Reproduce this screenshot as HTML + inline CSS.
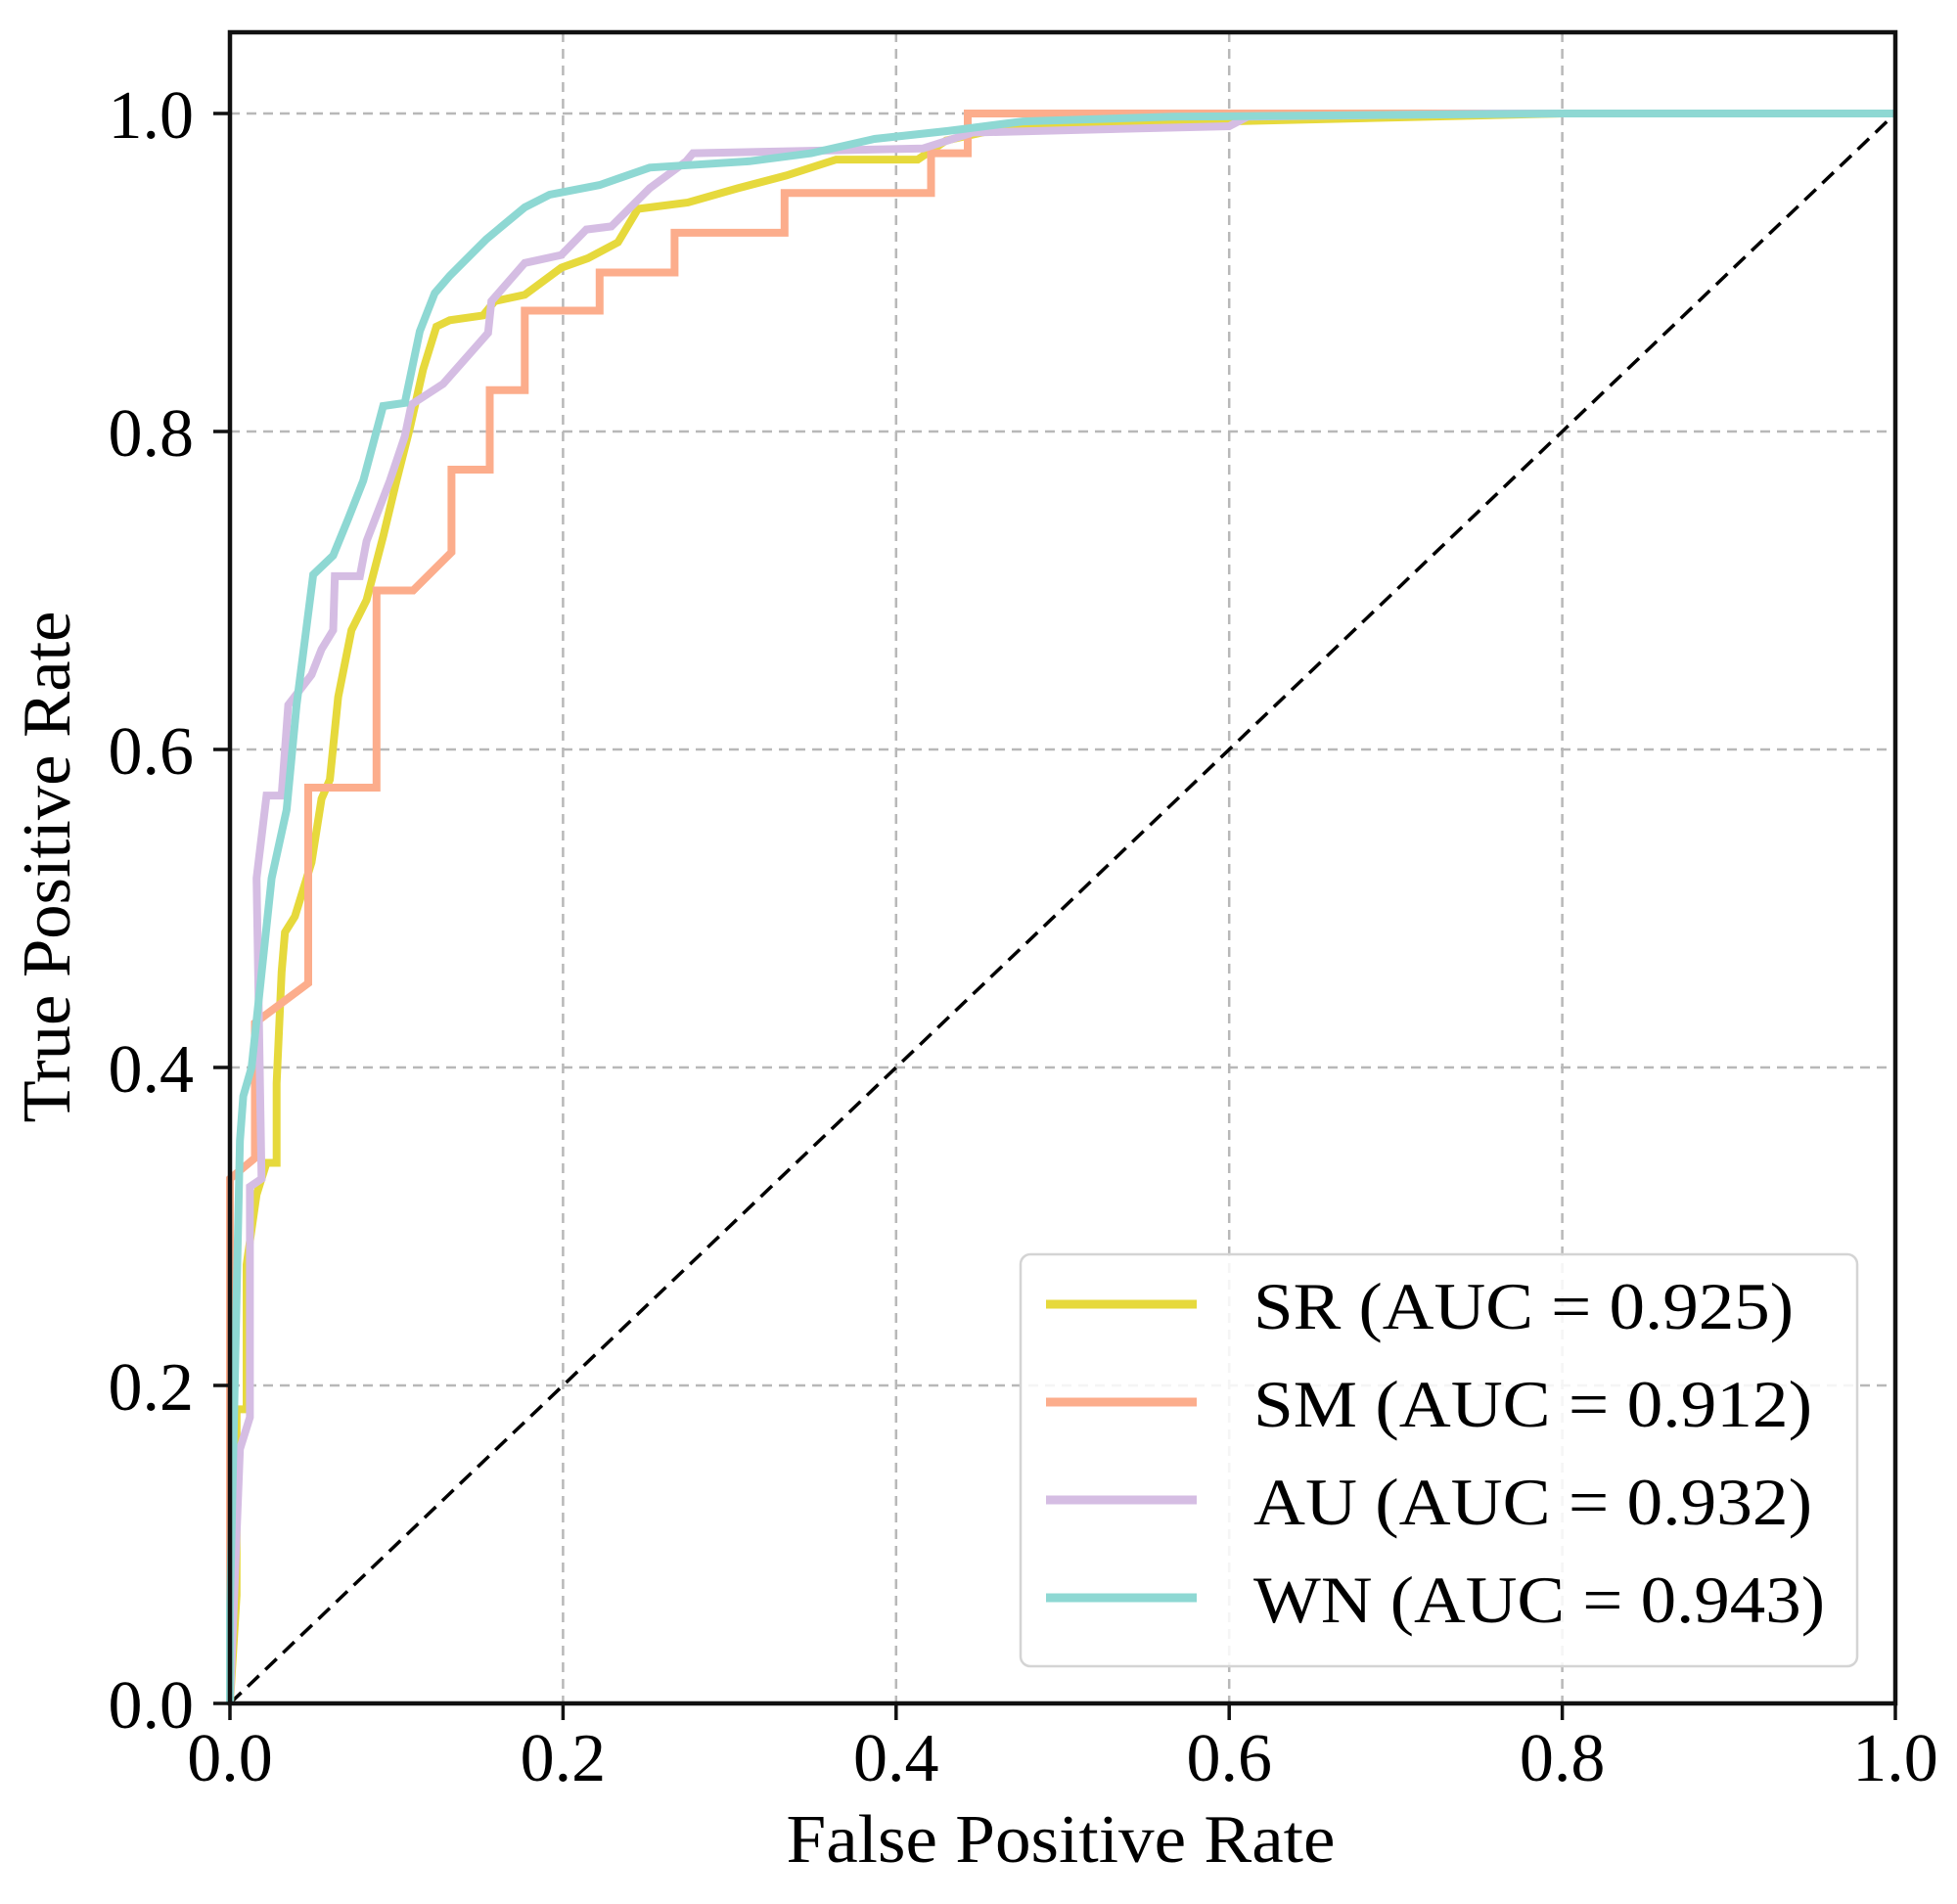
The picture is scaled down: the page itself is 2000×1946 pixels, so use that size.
<!DOCTYPE html>
<html><head><meta charset="utf-8"><style>
html,body{margin:0;padding:0;background:#fff;}
svg{display:block;font-family:"Liberation Serif","DejaVu Serif",serif;}
</style></head><body>
<svg id="chart" width="2000" height="1946" viewBox="0 0 2000 1946">
<g id="grid"></g>
<g id="curves"></g>
<g id="axes"></g>
<text x="1084" y="1903" font-size="70" text-anchor="middle" textLength="561" lengthAdjust="spacingAndGlyphs">False Positive Rate</text>
<text transform="translate(71,886) rotate(-90)" font-size="70" text-anchor="middle" textLength="523" lengthAdjust="spacingAndGlyphs">True Positive Rate</text>
<g id="legend"></g>
</svg>
<script>
const xTicks = [0, 0.2, 0.4, 0.6, 0.8, 1.0];
const yTicks = [0, 0.2, 0.4, 0.6, 0.8, 1.0];
const tickLabels = ["0.0", "0.2", "0.4", "0.6", "0.8", "1.0"];
const seriesNames = ["SR", "SM", "AU", "WN"];
const aucValues = ["0.925", "0.912", "0.932", "0.943"];
const seriesColors = ["#e6d93c", "#fcad8c", "#d5bde3", "#8ed8d3"];
const srFpr = [0,0.004,0.004,0.01,0.01,0.016,0.022,0.028,0.028,0.031,0.033,0.039,0.049,0.055,0.06,0.065,0.073,0.082,0.092,0.1,0.108,0.116,0.124,0.132,0.152,0.159,0.177,0.199,0.215,0.233,0.245,0.275,0.305,0.334,0.364,0.413,0.43,0.46,0.6,0.8,1.0];
const srTpr = [0,0.068,0.185,0.185,0.276,0.32,0.34,0.34,0.39,0.46,0.485,0.495,0.529,0.569,0.581,0.633,0.675,0.694,0.734,0.769,0.802,0.839,0.866,0.87,0.873,0.882,0.886,0.903,0.909,0.919,0.94,0.944,0.953,0.961,0.971,0.971,0.983,0.99,0.995,1.0,1.0];
const smFpr = [0,0,0.015,0.015,0.047,0.047,0.088,0.088,0.11,0.133,0.133,0.156,0.156,0.177,0.177,0.222,0.222,0.267,0.267,0.333,0.333,0.421,0.421,0.443,0.443,1.0];
const smTpr = [0,0.33,0.343,0.428,0.453,0.576,0.576,0.70,0.70,0.724,0.776,0.776,0.826,0.826,0.876,0.876,0.90,0.90,0.925,0.925,0.95,0.95,0.975,0.975,1.0,1.0];
const auFpr = [0,0.006,0.012,0.012,0.019,0.016,0.022,0.031,0.035,0.049,0.055,0.062,0.063,0.078,0.082,0.096,0.105,0.109,0.128,0.15,0.155,0.157,0.177,0.199,0.214,0.229,0.252,0.274,0.278,0.416,0.446,0.6,0.611,0.76,1.0];
const auTpr = [0,0.16,0.18,0.325,0.33,0.519,0.571,0.571,0.628,0.647,0.663,0.675,0.709,0.709,0.731,0.769,0.797,0.817,0.83,0.856,0.862,0.882,0.906,0.911,0.927,0.929,0.953,0.970,0.975,0.978,0.988,0.992,0.998,1.0,1.0];
const wnFpr = [0,0,0.006,0.008,0.013,0.025,0.034,0.040,0.05,0.062,0.071,0.08,0.092,0.105,0.114,0.123,0.132,0.154,0.177,0.192,0.222,0.252,0.312,0.349,0.387,0.431,0.476,0.566,0.8,1.0];
const wnTpr = [0,0.06,0.354,0.382,0.40,0.519,0.562,0.628,0.71,0.722,0.745,0.769,0.816,0.818,0.863,0.887,0.898,0.921,0.941,0.949,0.955,0.966,0.97,0.975,0.984,0.989,0.995,0.998,1.0,1.0];

const NS = "http://www.w3.org/2000/svg";
const X0 = 235, X1 = 1937, YB = 1741, YT = 33;
const sx = v => X0 + v * (X1 - X0);
const sy = v => YB - v * 1625;
function mk(tag, attrs, parent){ const e = document.createElementNS(NS, tag); for (const k in attrs) e.setAttribute(k, attrs[k]); parent.appendChild(e); return e; }

const grid = document.getElementById('grid');
xTicks.forEach((t,i) => {
  if (t > 0 && t < 1) {
    const l = mk('line', {x1: sx(t), x2: sx(t), y1: YT, y2: YB, stroke: '#b8b8b8', 'stroke-width': 2.5, 'stroke-dasharray': '10,7'}, grid);
    
    
  }
});
yTicks.forEach((t,i) => {
  if (t > 0) {
    const l = mk('line', {x1: X0, x2: X1, y1: sy(t), y2: sy(t), stroke: '#b8b8b8', 'stroke-width': 2.5, 'stroke-dasharray': '10,7'}, grid);
    
    
  }
});

const curves = document.getElementById('curves');
const diag = mk('line', {x1: sx(0), y1: sy(0), x2: sx(1), y2: sy(1), stroke: '#000', 'stroke-width': 3.5, 'stroke-dasharray': '16,9'}, curves);


const allF = [srFpr, smFpr, auFpr, wnFpr];
const allT = [srTpr, smTpr, auTpr, wnTpr];
allF.forEach((f, i) => {
  const pts = f.map((v, j) => sx(v).toFixed(1) + ',' + sy(allT[i][j]).toFixed(1)).join(' ');
  const p = mk('polyline', {points: pts, fill: 'none', stroke: seriesColors[i], 'stroke-width': 8, 'stroke-linejoin': 'miter'}, curves);
  
  
});

const axes = document.getElementById('axes');
const frame = mk('rect', {x: X0, y: YT, width: X1 - X0, height: YB - YT, fill: 'none', stroke: '#111', 'stroke-width': 4.5}, axes);


xTicks.forEach((t, i) => {
  const tk = mk('line', {x1: sx(t), x2: sx(t), y1: YB, y2: YB + 17, stroke: '#111', 'stroke-width': 3.5}, axes);
  
  
  const tx = mk('text', {x: sx(t), y: 1820, 'font-size': 70, 'text-anchor': 'middle'}, axes);
  tx.textContent = tickLabels[i];
  
  
});
yTicks.forEach((t, i) => {
  const tk = mk('line', {x1: X0 - 17, x2: X0, y1: sy(t), y2: sy(t), stroke: '#111', 'stroke-width': 3.5}, axes);
  
  
  const tx = mk('text', {x: 198, y: sy(t) + 25, 'font-size': 70, 'text-anchor': 'end'}, axes);
  tx.textContent = tickLabels[i];
  
  
});

const legend = document.getElementById('legend');
const box = mk('rect', {x: 1043, y: 1282, width: 855, height: 421, rx: 10, fill: '#fff', 'fill-opacity': 0.85, stroke: '#d4d4d4', 'stroke-width': 2.5}, legend);


const textW = [552, 571, 571, 584];
seriesNames.forEach((n, i) => {
  const y = 1333 + i * 100;
  const ln = mk('line', {x1: 1069, x2: 1223, y1: y, y2: y, stroke: seriesColors[i], 'stroke-width': 9}, legend);
  
  
  const tx = mk('text', {x: 1281, y: y + 25, 'font-size': 68, textLength: textW[i], lengthAdjust: 'spacingAndGlyphs'}, legend);
  tx.textContent = n + ' (AUC = ' + aucValues[i] + ')';
  
  
});
</script>
</body></html>
